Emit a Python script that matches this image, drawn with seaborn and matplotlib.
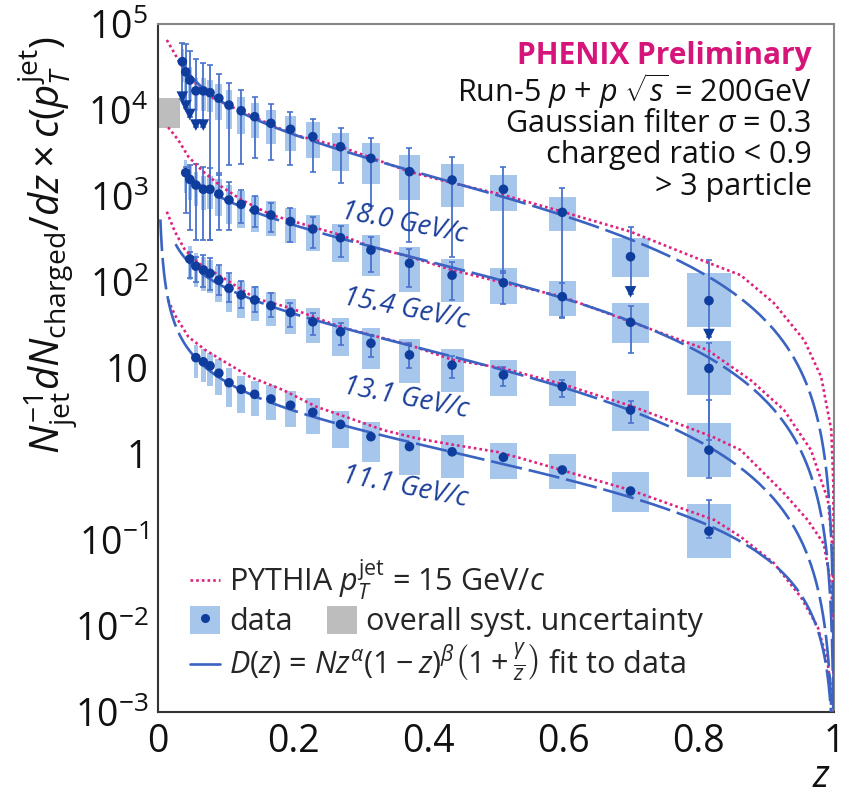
import numpy as np
import pandas as pd
import matplotlib
matplotlib.use("Agg")
import matplotlib.pyplot as plt
import seaborn as sns
from matplotlib.lines import Line2D
from matplotlib.patches import Patch
from matplotlib.legend_handler import HandlerTuple
from matplotlib.ticker import FixedLocator, FixedFormatter, MultipleLocator, LogLocator, NullFormatter

# ---------------- data ----------------
z_bins = [0.036, 0.041, 0.047, 0.056, 0.067, 0.077, 0.090, 0.105, 0.123, 0.143, 0.167,
          0.196, 0.229, 0.270, 0.315, 0.372, 0.435, 0.511, 0.598, 0.699, 0.815]
bin_halfwidth = [0.002, 0.002, 0.003, 0.003, 0.004, 0.004, 0.005, 0.005, 0.006, 0.006, 0.007,
                 0.008, 0.010, 0.012, 0.013, 0.015, 0.017, 0.020, 0.020, 0.028, 0.032]
# systematic box extent (decades above / below the point)
sys_up_dex = [0.15, 0.15, 0.15, 0.15, 0.15, 0.15, 0.17, 0.17, 0.16, 0.16, 0.16,
              0.16, 0.165, 0.16, 0.175, 0.19, 0.19, 0.17, 0.18, 0.22, 0.32]
sys_dn_dex = [0.24, 0.24, 0.24, 0.24, 0.24, 0.23, 0.25, 0.28, 0.27, 0.25, 0.24,
              0.25, 0.25, 0.28, 0.30, 0.33, 0.31, 0.25, 0.22, 0.24, 0.31]

series_labels = ["18.0 GeV/c", "15.4 GeV/c", "13.1 GeV/c", "11.1 GeV/c"]
series_first_bin = [0, 1, 2, 3]

# 18.0 GeV/c
s1_val = [36500, 27700, 22300, 16700, 16700, 15900, 13700, 11400, 9800, 8360, 7000,
          5970, 4900, 3740, 2740, 1920, 1535, 1196, 646, 197, 60.7]
s1_hi = [59700, 58500, 48900, 38900, 35500, 33400, 26200, 20700, 17100, 14100, 11700,
         9550, 7850, 6180, 4720, 3610, 2860, 2190, 1230, 432, 180]
s1_lo = [13300, 10500, 8360, 6300, 6300, 308, 1750, 2290, 2350, 2770, 2620,
         2290, 1920, 1420, 766, 294, 197, 127, 39.5, 72.4, 23.1]
s1_lim = [1, 1, 1, 1, 1, 0, 0, 0, 0, 0, 0, 0, 0, 0, 0, 0, 0, 0, 0, 1, 1]
# 15.4 GeV/c
s2_val = [1866, 1563, 1342, 1197, 1197, 1054, 898, 800, 687, 601, 505, 413, 327, 235,
          165, 120, 98, 67.5, 34, 9.9]
s2_hi = [2190, 2290, 2350, 2190, 2120, 1850, 1470, 1175, 1000, 822, 719, 574, 448, 336,
         240, 172, 135, 98, 52.6, 19.4]
s2_lo = [630, 403, 308, 308, 308, 403, 403, 482, 440, 385, 294, 247, 197, 132,
         88, 61.8, 55.5, 37.8, 15.1, 1.46]
# 13.1 GeV/c
s3_val = [185, 153, 138, 126, 105, 84.5, 70.6, 61.8, 53, 44.2, 34.5, 26.4, 19.4, 14.2,
          10.8, 8.3, 6.07, 3.25, 1.11]
s3_hi = [225, 197, 206, 189, 158, 127, 103, 87.5, 74.5, 56.5, 43.3, 33.1, 24.2, 19.7,
         13.8, 10.4, 7.24, 4.17, 4.25]
s3_lo = [110, 101, 88, 80.7, 70.6, 58.5, 49.9, 44.8, 39.2, 30.2, 24.2, 18.5, 13.5, 9.9,
         7.6, 6.2, 4.64, 2.27, 0.53]
# 11.1 GeV/c
s4_val = [13.2, 11.8, 10.6, 8.7, 6.74, 5.65, 4.94, 4.36, 3.69, 3.05, 2.21, 1.59, 1.22,
          1.06, 0.916, 0.652, 0.371, 0.127]
s4_hi = [13.8, 12.3, 11.0, 9.0, 7.0, 5.9, 5.1, 4.5, 3.8, 3.15, 2.3, 1.66, 1.27,
         1.10, 0.96, 0.68, 0.39, 0.29]
s4_lo = [12.6, 11.3, 10.2, 8.4, 6.5, 5.4, 4.8, 4.2, 3.6, 2.95, 2.12, 1.52, 1.17,
         1.02, 0.88, 0.63, 0.355, 0.105]

# fit D(z) = N z^a (1-z)^b (1 + g/z), parameters per series
fit_N = [2000, 240, 21.9, 1.10]
fit_alpha = [-0.83, -0.65, -0.65, -0.80]
fit_beta = [1.8, 1.8, 1.8, 1.3]
fit_gamma = [0.005, 0.002, 0.006, 0.015]
fit_zmin = [0.034, 0.038, 0.026, 0.0035]

# PYTHIA curves
py1_z = [0.013, 0.023, 0.030, 0.045, 0.081, 0.119, 0.168, 0.203, 0.270, 0.372, 0.435, 0.511,
         0.598, 0.699, 0.810, 0.862, 0.911, 0.956, 0.981, 0.996, 0.999, 0.9999]
py1_v = [65200, 47600, 38100, 24400, 13800, 10000, 6700, 5120, 3740, 1920, 1417, 1028,
         657, 385, 172, 120, 57, 21, 7.9, 1.9, 0.46, 0.001]
py2_z = [0.015, 0.030, 0.045, 0.067, 0.094, 0.124, 0.168, 0.270, 0.315, 0.372, 0.435, 0.511,
         0.598, 0.699, 0.813, 0.877, 0.926, 0.966, 0.991, 0.998, 0.9999]
py2_v = [6300, 4480, 2860, 1920, 1283, 898, 601, 352, 257, 197, 138, 98,
         67.5, 34.5, 16.2, 7.2, 3.25, 1.11, 0.29, 0.077, 0.001]
py3_z = [0.013, 0.025, 0.040, 0.060, 0.094, 0.144, 0.195, 0.270, 0.372, 0.435, 0.511, 0.598,
         0.703, 0.820, 0.862, 0.926, 0.961, 0.985, 0.996, 0.9985, 0.9999]
py3_v = [657, 385, 235, 165, 115, 64.6, 50, 30, 18.5, 12.5, 9.9, 6.5,
         3.55, 1.59, 1.11, 0.35, 0.171, 0.09, 0.028, 0.0083, 0.001]
py4_z = [0.015, 0.025, 0.045, 0.070, 0.094, 0.136, 0.185, 0.234, 0.284, 0.333, 0.383, 0.432,
         0.501, 0.531, 0.699, 0.823, 0.862, 0.911, 0.951, 0.976, 0.990, 0.998, 0.9999]
py4_v = [61.8, 41.3, 23, 16.2, 12.4, 7.9, 5.55, 3.55, 2.60, 1.90, 1.52, 1.30,
         1.06, 0.92, 0.38, 0.171, 0.109, 0.054, 0.0217, 0.0097, 0.004, 0.0014, 0.001]

overall_syst_z = [0.0, 0.032]
overall_syst_val = [6100, 13700]

x_ticks = [0, 0.2, 0.4, 0.6, 0.8, 1.0]
x_ticklabels = ["0", "0.2", "0.4", "0.6", "0.8", "1"]
y_ticks = [1e-3, 1e-2, 1e-1, 1, 10, 1e2, 1e3, 1e4, 1e5]
y_ticklabels = [r"$10^{-3}$", r"$10^{-2}$", r"$10^{-1}$", "1", "10",
                r"$10^{2}$", r"$10^{3}$", r"$10^{4}$", r"$10^{5}$"]

# ---------------- style ----------------
sns.set_theme(style="white")
plt.rcParams["font.family"] = ["Open Sans", "DejaVu Sans"]
plt.rcParams["mathtext.fontset"] = "custom"
plt.rcParams["mathtext.rm"] = "Open Sans"
plt.rcParams["mathtext.it"] = "Open Sans:italic"
plt.rcParams["mathtext.bf"] = "Open Sans:bold"

PINK = "#e0207f"
PT_BLUE = "#0f3d9e"
FIT_BLUE = "#3a63c2"
ERR_BLUE = "#4a72cc"
BOX_BLUE = "#a6c7eb"
LABEL_BLUE = "#1c3f9a"
GRAY = "#bdbdbd"

fig = plt.figure(figsize=(8.59, 7.99), dpi=100)
ax = fig.add_axes([158 / 859, 1 - 712 / 799, 676 / 859, 688 / 799])
ax.set_yscale("log")
ax.set_xlim(0, 1.0)
ax.set_ylim(1e-3, 1e5)

series = [(s1_val, s1_hi, s1_lo, s1_lim), (s2_val, s2_hi, s2_lo, None),
          (s3_val, s3_hi, s3_lo, None), (s4_val, s4_hi, s4_lo, None)]

# overall systematic box
ax.bar(x=np.mean(overall_syst_z), height=overall_syst_val[1] - overall_syst_val[0],
       bottom=overall_syst_val[0], width=overall_syst_z[1] - overall_syst_z[0],
       color=GRAY, edgecolor="none", zorder=1)

for i, (val, hi, lo, lim) in enumerate(series):
    k = series_first_bin[i]
    n = len(val)
    z = np.array(z_bins[k:k + n])
    hw = np.array(bin_halfwidth[k:k + n])
    v = np.array(val, dtype=float)
    top = v * 10 ** np.array(sys_up_dex[k:k + n])
    bot = v / 10 ** np.array(sys_dn_dex[k:k + n])
    ax.bar(x=z, height=top - bot, bottom=bot, width=2 * hw, color=BOX_BLUE,
           edgecolor="none", zorder=1)
    ax.errorbar(z, v, yerr=[v - np.array(lo), np.array(hi) - v], fmt="none",
                ecolor=ERR_BLUE, elinewidth=1.3, capsize=2.2, capthick=1.2, zorder=2)
    if lim is not None:
        m = np.array(lim) == 1
        sns.scatterplot(x=z[m], y=np.array(lo)[m] * 1.06, marker="v", s=70, color=PT_BLUE,
                        edgecolor="none", ax=ax, zorder=5, legend=False)

# PYTHIA curves
for pz, pv in [(py1_z, py1_v), (py2_z, py2_v), (py3_z, py3_v), (py4_z, py4_v)]:
    sns.lineplot(x=pz, y=pv, ax=ax, color=PINK, lw=1.9, linestyle=(0, (1.0, 1.15)),
                 sort=False, estimator=None, zorder=3)

# fits
for i in range(4):
    zz = np.concatenate([np.geomspace(fit_zmin[i], 0.9, 300), 1 - np.geomspace(0.0999, 2e-5, 300)])
    dd = fit_N[i] * zz ** fit_alpha[i] * (1 - zz) ** fit_beta[i] * (1 + fit_gamma[i] / zz)
    sns.lineplot(x=zz, y=dd, ax=ax, color=FIT_BLUE, lw=1.9, linestyle=(0, (12, 2.6)),
                 sort=False, estimator=None, zorder=3)

# points
for i, (val, hi, lo, lim) in enumerate(series):
    k = series_first_bin[i]
    z = z_bins[k:k + len(val)]
    sns.scatterplot(x=z, y=val, ax=ax, color=PT_BLUE, s=48, edgecolor="none",
                    zorder=6, legend=False)

# series labels
label_pos = [(0.364, 0.711), (0.367, 0.586), (0.367, 0.456), (0.365, 0.326)]
for lab, (lx, ly) in zip(series_labels, label_pos):
    ax.text(lx, ly, lab, transform=ax.transAxes, fontsize=19.5, fontstyle="italic",
            color=LABEL_BLUE, rotation=-11, ha="center", va="center", zorder=7)

# header text
ax.text(0.967, 0.953, "PHENIX Preliminary", transform=ax.transAxes, ha="right", va="center",
        fontsize=21.5, fontweight="bold", color="#d6157a")
hdr = [r"Run-5 $p$ + $p$ $\sqrt{s}$ = 200GeV", r"Gaussian filter $\sigma$ = 0.3",
       "charged ratio < 0.9", "> 3 particle"]
for t, yy in zip(hdr, [0.903, 0.855, 0.809, 0.763]):
    ax.text(0.967, yy, t, transform=ax.transAxes, ha="right", va="center", fontsize=22,
            color="#111111")

# legend
h_py = Line2D([], [], color=PINK, lw=1.9, linestyle=(0, (1.0, 1.15)))
h_data = (Patch(facecolor=BOX_BLUE, edgecolor="none"),
          Line2D([], [], marker="o", color=PT_BLUE, linestyle="none", markersize=5.5))
h_sys = Patch(facecolor=GRAY, edgecolor="none")
h_fit = Line2D([], [], color=FIT_BLUE, lw=1.9)
common = dict(loc="center left", frameon=False, fontsize=22, borderpad=0, borderaxespad=0,
              handletextpad=0.3)
leg1 = ax.legend([h_py], [r"PYTHIA $p_T^{\mathrm{jet}}$ = 15 GeV/$c$"],
                 bbox_to_anchor=(0.047, 0.192), handlelength=1.0, **common)
ax.add_artist(leg1)
leg2 = ax.legend([h_data, h_sys], ["data", "overall syst. uncertainty"], ncol=2,
                 columnspacing=1.1, handlelength=1.0, handleheight=1.0,
                 handler_map={tuple: HandlerTuple(ndivide=1, pad=0)},
                 bbox_to_anchor=(0.047, 0.131), **common)
ax.add_artist(leg2)
ax.legend([h_fit], [r"$D(z)$ = $Nz^{\alpha}(1-z)^{\beta}\left(1+\frac{\gamma}{z}\right)$ fit to data"],
          bbox_to_anchor=(0.047, 0.073), handlelength=1.0, **common)

# axes / ticks
ax.xaxis.set_major_locator(FixedLocator(x_ticks))
ax.xaxis.set_major_formatter(FixedFormatter(x_ticklabels))
ax.xaxis.set_minor_locator(MultipleLocator(0.05))
ax.yaxis.set_major_locator(FixedLocator(y_ticks))
ax.yaxis.set_major_formatter(FixedFormatter(y_ticklabels))
ax.yaxis.set_minor_locator(LogLocator(base=10, subs=np.arange(2, 10), numticks=20))
ax.yaxis.set_minor_formatter(NullFormatter())
ax.tick_params(axis="both", which="both", direction="in", color="#666666", width=1.2,
               labelsize=27, labelcolor="#111111")
ax.tick_params(axis="x", which="major", length=16, pad=8)
ax.tick_params(axis="x", which="minor", length=8)
ax.tick_params(axis="y", which="major", length=15, pad=7)
ax.tick_params(axis="y", which="minor", length=7)
ax.tick_params(top=False, right=False, which="both")
for s in ["left", "bottom"]:
    ax.spines[s].set_color("#333333")
    ax.spines[s].set_linewidth(1.5)
for s in ["top", "right"]:
    ax.spines[s].set_color("#888888")
    ax.spines[s].set_linewidth(1.5)
ax.set_xlabel("")
ax.set_ylabel("")

fig.text(48 / 859, 1 - 245 / 799,
         r"$N_{\mathrm{jet}}^{-1}dN_{\mathrm{charged}}/dz \times c(p_{T}^{\mathrm{jet}})$",
         rotation=90, fontsize=29, ha="center", va="center", color="#111111")
fig.text(822 / 859, 1 - 777 / 799, r"$z$", fontsize=27, ha="center", va="center",
         color="#111111")

fig.savefig("out.png", dpi=100)
